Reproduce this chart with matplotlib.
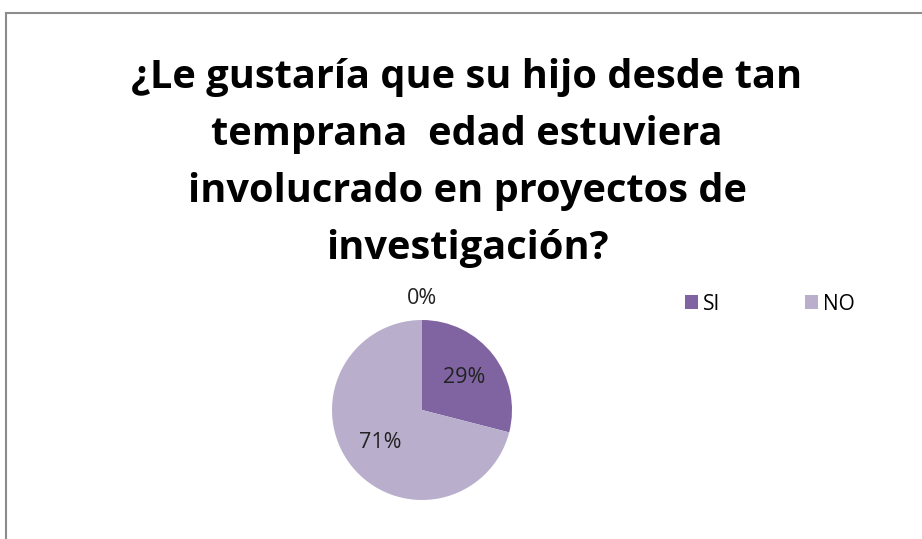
import numpy as np
import matplotlib
matplotlib.use("Agg")
import matplotlib.pyplot as plt
from matplotlib.lines import Line2D
from matplotlib.patches import Patch

title = "¿Le gustaría que su hijo desde tan\ntemprana  edad estuviera\ninvolucrado en proyectos de\ninvestigación?"
categories = ["SI", "NO", ""]
values = [29, 71, 0]
colors = ["#8064A2", "#B9AFCC", "#4BACC6"]

W, H = 922, 539
fig = plt.figure(figsize=(W / 100, H / 100), dpi=100)
fig.patch.set_facecolor("white")

# chart area border (top and left visible)
fig.add_artist(Line2D([6 / W, 1.0], [1 - 13 / H, 1 - 13 / H], color="#8C8C8C", lw=1.5))
fig.add_artist(Line2D([6 / W, 6 / W], [1 - 13 / H, 0], color="#8C8C8C", lw=1.5))

fig.text(467 / W, 1 - 163 / H, title, ha="center", va="center",
         fontsize=28.6, fontweight="bold", family="Open Sans", color="#000000",
         linespacing=1.59)

cx, cy, r = 422, 410, 90
ax = fig.add_axes([(cx - r) / W, 1 - (cy + r) / H, 2 * r / W, 2 * r / H])
wedges, texts, autotexts = ax.pie(
    values, colors=colors, startangle=90, counterclock=False,
    autopct="%1.0f%%", pctdistance=0.59, radius=1.0,
    textprops=dict(fontsize=15.5, family="Open Sans", color="#222222"),
    wedgeprops=dict(linewidth=0))
for w, t, v in zip(wedges, autotexts, values):
    if v == 0:
        ang = np.deg2rad((w.theta1 + w.theta2) / 2)
        t.set_position((1.24 * np.cos(ang), 1.24 * np.sin(ang)))
ax.set_xlim(-1, 1)
ax.set_ylim(-1, 1)
ax.set_aspect("equal")
ax.axis("off")

handles = [Patch(facecolor=colors[i], edgecolor="none", label=categories[i]) for i in range(2)]
leg = fig.legend(handles=handles, loc="center left", bbox_to_anchor=(685 / W, 1 - 304 / H),
                 ncol=2, frameon=False, prop=dict(family="Open Sans", size=15),
                 handlelength=0.62, handleheight=0.62, handletextpad=0.22, columnspacing=4.1,
                 borderaxespad=0, borderpad=0)

fig.savefig("out.png", dpi=100, facecolor="white")
